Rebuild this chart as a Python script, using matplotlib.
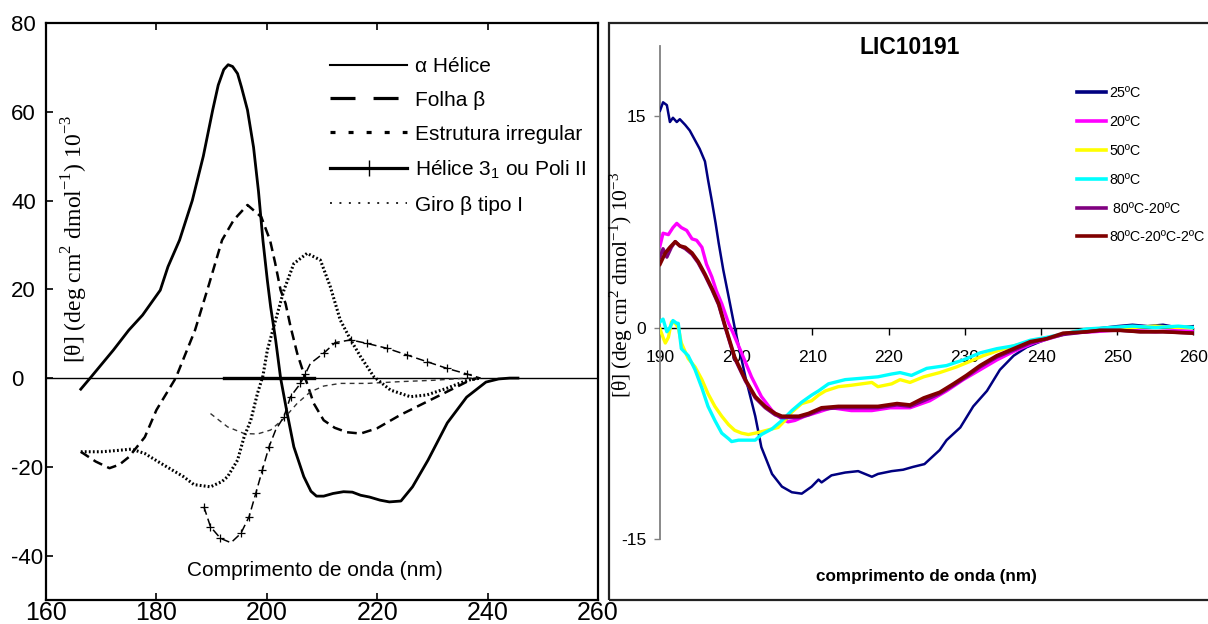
import matplotlib
matplotlib.use("Agg")
import matplotlib.pyplot as plt
from matplotlib.lines import Line2D
from matplotlib.patches import Rectangle
from matplotlib import font_manager

plt.rcParams['font.family'] = ['Liberation Sans', 'DejaVu Sans']
plt.rcParams['lines.scale_dashes'] = False
plt.rcParams['axes.unicode_minus'] = False

# ---------------- left panel: reference CD spectra ----------------
struct_labels = ['α Hélice', 'Folha β', 'Estrutura irregular',
                 r'Hélice 3$_{\mathregular{1}}$ ou Poli II', 'Giro β tipo I']

alpha_nm = [166.3, 168.0, 172.2, 175.0, 177.5, 180.7, 182.1, 184.2, 186.5, 188.5,
            190.2, 191.2, 192.2, 193.0, 193.8, 194.7, 195.4, 196.5, 197.6, 198.5,
            199.3, 200.1, 200.7, 201.6, 202.5, 203.7, 204.9, 206.7, 208.0, 209.0,
            210.3, 212.0, 213.9, 215.5, 217.0, 218.6, 220.5, 222.2, 224.3, 226.4,
            229.2, 232.7, 236.2, 239.7, 242.0, 244.0, 245.5]
alpha_val = [-2.5, 0.0, 6.3, 10.8, 14.2, 19.8, 25.1, 31.1, 40.0, 50.0,
             60.4, 66.0, 69.5, 70.6, 70.2, 68.6, 65.6, 60.4, 52.0, 42.0,
             31.0, 22.0, 16.0, 8.6, 0.0, -8.0, -15.5, -22.2, -25.5, -26.6,
             -26.6, -26.0, -25.6, -25.7, -26.4, -26.8, -27.5, -27.9, -27.7, -24.5,
             -18.5, -10.1, -4.3, -0.9, -0.2, 0.0, 0.0]

beta_nm = [166.3, 169.0, 171.5, 173.3, 175.0, 177.9, 180.0, 183.5, 187.0, 189.5,
           191.9, 194.0, 196.5, 199.0, 200.6, 201.5, 202.5, 203.4, 204.3, 205.5,
           206.7, 208.5, 210.3, 212.3, 214.5, 217.0, 220.0, 224.2, 228.4, 232.6,
           236.3, 238.1]
beta_val = [-16.6, -18.8, -20.3, -19.5, -17.8, -13.3, -7.2, 0.0, 10.8, 21.0,
            31.1, 35.6, 39.0, 36.3, 31.0, 26.0, 19.8, 16.8, 11.6, 5.6,
            1.0, -5.7, -9.5, -11.2, -12.2, -12.5, -11.3, -8.3, -5.7, -3.1,
            -0.8, 0.0]

irreg_nm = [189.8, 192.9, 195.9, 198.3, 200.7, 203.1, 205.5, 207.9, 210.3, 213.3,
            218.2, 224.2, 230.2, 236.3, 239.0]
irreg_val = [-8.0, -11.0, -12.5, -12.6, -11.7, -9.1, -5.7, -3.1, -1.8, -1.2,
             -1.2, -0.8, -0.5, 0.0, 0.0]

h31_nm = [188.6, 189.8, 191.6, 193.5, 195.3, 196.8, 198.0, 199.2, 200.4, 201.6,
          203.1, 204.3, 206.1, 207.0, 207.9, 210.3, 212.4, 215.2, 218.2, 221.8,
          225.4, 229.0, 232.6, 236.3, 238.7]
h31_val = [-29.0, -33.5, -36.1, -37.1, -35.0, -31.2, -26.0, -20.7, -15.5, -11.7,
           -8.7, -4.2, -1.2, 1.0, 3.3, 5.6, 8.0, 8.6, 7.8, 6.7,
           5.2, 3.7, 2.2, 0.9, 0.0]

turn_nm = [166.3, 170.1, 173.0, 175.5, 177.9, 180.8, 184.9, 186.8, 189.8, 191.9,
           192.9, 194.7, 195.9, 197.1, 198.3, 199.3, 200.1, 201.6, 203.1, 204.9,
           207.3, 209.7, 211.5, 213.3, 215.2, 217.0, 219.4, 222.4, 226.0, 229.0,
           232.6, 236.3, 238.7]
turn_val = [-16.6, -16.6, -16.3, -16.0, -17.0, -19.2, -22.2, -24.0, -24.5, -23.3,
            -22.2, -18.5, -13.2, -9.5, -3.5, 0.5, 6.3, 13.1, 19.8, 25.8,
            28.1, 26.6, 20.6, 13.1, 8.6, 4.8, 0.3, -2.7, -4.2, -3.8,
            -2.3, -0.5, 0.0]

baseline_heavy_nm = [192.2, 208.5]

left_xticks = [160, 180, 200, 220, 240, 260]
left_yticks = [-40, -20, 0, 20, 40, 60, 80]

# ---------------- right panel: LIC10191 thermal series ----------------
temps = ['25ºC', '20ºC', '50ºC', '80ºC', ' 80ºC-20ºC', '80ºC-20ºC-2ºC']
temp_colors = ['#000080', '#ff00ff', '#ffff00', '#00ffff', '#800080', '#800000']

t25_nm = [190.0, 190.4, 190.9, 191.3, 191.7, 192.2, 192.6, 193.3, 193.9, 194.6,
          195.2, 195.9, 196.3, 196.8, 197.3, 197.7, 198.3, 199.0, 199.8, 201.2,
          202.5, 203.3, 204.7, 206.0, 207.3, 208.6, 209.9, 210.8, 211.2, 212.5,
          214.3, 216.0, 217.8, 218.6, 220.4, 221.9, 223.2, 224.7, 226.7, 227.6,
          229.4, 231.1, 232.9, 234.6, 236.4, 238.1, 239.9, 241.5, 243.3, 245.5,
          248.4, 250.0, 252.0, 254.0, 256.0, 258.0, 260.0]
t25_val = [15.4, 16.0, 15.8, 14.6, 14.9, 14.6, 14.8, 14.4, 14.0, 13.3,
           12.7, 11.8, 10.5, 9.0, 7.4, 6.0, 4.1, 2.2, 0.0, -3.5,
           -6.3, -8.5, -10.4, -11.3, -11.7, -11.8, -11.3, -10.8, -11.0, -10.5,
           -10.3, -10.2, -10.6, -10.4, -10.2, -10.1, -9.9, -9.7, -8.7, -8.0,
           -7.1, -5.6, -4.5, -3.0, -2.0, -1.4, -1.0, -0.7, -0.4, -0.2,
           0.0, 0.1, 0.2, 0.1, 0.2, 0.0, 0.1]

t20_nm = [190.0, 190.4, 191.1, 191.7, 192.2, 192.8, 193.5, 194.2, 194.8, 195.5,
          196.1, 196.8, 197.4, 198.1, 199.0, 199.6, 200.7, 202.0, 203.3, 204.7,
          206.0, 206.8, 207.7, 209.0, 210.8, 212.5, 215.1, 217.8, 220.2, 222.8,
          225.4, 227.6, 229.8, 232.0, 234.2, 236.4, 239.0, 241.6, 243.4, 246.9,
          249.5, 252.0, 255.0, 258.0, 260.0]
t20_val = [5.8, 6.7, 6.6, 7.1, 7.4, 7.1, 6.9, 6.3, 6.2, 5.7,
           4.5, 3.6, 2.6, 1.7, 0.3, -0.4, -1.8, -3.5, -4.9, -5.9,
           -6.5, -6.7, -6.6, -6.3, -6.0, -5.7, -5.9, -5.9, -5.7, -5.7,
           -5.2, -4.5, -3.7, -3.0, -2.3, -1.7, -1.1, -0.7, -0.4, -0.3,
           -0.2, -0.2, -0.3, -0.2, -0.3]

t50_nm = [190.0, 190.4, 190.7, 191.1, 191.5, 192.0, 192.4, 192.8, 193.7, 194.6,
          195.5, 196.3, 197.2, 198.1, 199.0, 199.8, 200.7, 201.6, 202.5, 203.3,
          204.7, 205.5, 206.4, 207.3, 208.6, 209.9, 210.8, 211.7, 213.4, 215.1,
          217.8, 218.6, 220.4, 221.5, 222.8, 224.6, 226.7, 228.9, 230.7, 232.4,
          234.6, 236.4, 238.6, 240.7, 243.4, 246.0, 249.0, 252.0, 255.0, 258.0,
          260.0]
t50_val = [-0.1, -0.7, -1.1, -0.7, 0.4, 0.3, 0.0, -1.1, -2.2, -2.8,
           -3.7, -4.7, -5.6, -6.3, -6.9, -7.3, -7.5, -7.6, -7.5, -7.4,
           -7.2, -7.1, -6.6, -6.0, -5.4, -5.2, -4.8, -4.5, -4.2, -4.1,
           -3.9, -4.2, -4.0, -3.7, -3.9, -3.5, -3.2, -2.8, -2.4, -2.0,
           -1.6, -1.3, -1.0, -0.8, -0.4, -0.2, -0.1, 0.0, 0.1, 0.0,
           0.0]

t80_nm = [190.0, 190.4, 190.9, 191.3, 191.7, 192.2, 192.4, 192.8, 193.7, 194.6,
          195.5, 196.3, 197.2, 198.1, 199.0, 199.4, 200.3, 201.6, 202.5, 203.3,
          204.7, 206.0, 207.3, 208.6, 209.9, 210.8, 212.1, 214.3, 216.5, 218.6,
          220.4, 221.5, 223.0, 225.0, 227.6, 229.8, 232.0, 234.2, 236.4, 238.6,
          240.7, 243.4, 246.0, 249.0, 252.0, 255.0, 258.0, 260.0]
t80_val = [0.4, 0.6, -0.3, 0.0, 0.5, 0.3, 0.3, -1.5, -2.0, -3.0,
           -4.3, -5.6, -6.6, -7.5, -7.9, -8.1, -8.0, -8.0, -8.0, -7.6,
           -7.2, -6.6, -5.9, -5.3, -4.8, -4.5, -4.0, -3.7, -3.6, -3.5,
           -3.3, -3.2, -3.4, -2.9, -2.7, -2.3, -1.8, -1.5, -1.3, -0.9,
           -0.7, -0.4, -0.1, 0.0, 0.1, 0.0, 0.1, 0.0]

t80_20_nm = [190.0, 190.4, 190.9, 191.5, 192.0, 192.6, 193.3, 194.2, 195.0, 195.9,
             196.8, 197.7, 198.5, 199.8, 201.2, 202.5, 203.8, 205.1, 206.0, 207.3,
             208.2, 209.5, 211.2, 213.4, 216.0, 218.6, 221.1, 222.8, 224.6, 226.7,
             228.5, 230.2, 232.0, 234.2, 236.4, 238.6, 240.7, 242.9, 246.0, 247.7,
             250.4, 253.0, 256.0, 260.0]
t80_20_val = [5.0, 5.6, 5.0, 5.7, 6.1, 5.8, 5.6, 5.2, 4.6, 3.7,
              2.7, 1.6, 0.1, -2.2, -3.8, -5.0, -5.7, -6.2, -6.4, -6.4,
              -6.4, -6.2, -5.8, -5.7, -5.7, -5.7, -5.5, -5.6, -5.2, -4.7,
              -4.1, -3.5, -2.8, -2.1, -1.6, -1.1, -0.8, -0.5, -0.3, -0.2,
              -0.2, -0.3, -0.3, -0.4]

t80_20_2_nm = [190.0, 190.7, 191.3, 192.0, 192.6, 193.3, 194.2, 195.0, 195.9, 196.8,
               197.7, 198.5, 199.8, 201.2, 202.5, 203.8, 205.1, 206.0, 207.3, 208.2,
               209.5, 211.2, 213.4, 216.0, 218.6, 221.1, 222.8, 224.6, 226.7, 228.5,
               230.2, 232.0, 234.2, 236.4, 238.6, 240.7, 242.9, 246.0, 247.7, 250.4,
               253.0, 256.0, 260.0]
t80_20_2_val = [4.5, 5.3, 5.7, 6.1, 5.8, 5.7, 5.3, 4.7, 3.8, 2.8,
                1.7, 0.2, -2.1, -3.7, -4.9, -5.6, -6.1, -6.3, -6.3, -6.3,
                -6.1, -5.7, -5.6, -5.6, -5.6, -5.4, -5.5, -5.0, -4.6, -4.0,
                -3.4, -2.7, -2.0, -1.5, -1.0, -0.8, -0.4, -0.3, -0.2, -0.2,
                -0.3, -0.3, -0.4]

right_xticks = [190, 200, 210, 220, 230, 240, 250, 260]
right_yticks = [-15, 0, 15]

# ---------------- fonts ----------------
installed = {f.name for f in font_manager.fontManager.ttflist}
if 'Liberation Sans Narrow' in installed:
    NARROW = ['Liberation Sans Narrow', 'DejaVu Sans']
    sz_title, sz_xlab, sz_leg, sz_tick = 20, 15, 12.5, 14.5
else:
    NARROW = ['Liberation Sans', 'DejaVu Sans']
    sz_title, sz_xlab, sz_leg, sz_tick = 16.5, 12.3, 10.3, 12.5
SERIF = ['Liberation Serif', 'DejaVu Serif']

W, H = 1208, 624


def fx(x):
    return x / W


def fy(y):
    return 1 - y / H


fig = plt.figure(figsize=(W / 100, H / 100), dpi=100)
fig.patch.set_facecolor('white')

ylab = r'[θ] (deg cm$^{\mathregular{2}}$ dmol$^{\mathregular{-1}}$) 10$^{\mathregular{-3}}$'

# ======== left panel ========
ax1 = fig.add_axes([fx(46), fy(600), (598 - 46) / W, (600 - 23) / H])
ax1.set_xlim(160, 260)
ax1.set_ylim(-50, 80)
ax1.set_xticks(left_xticks)
ax1.set_yticks(left_yticks)
for s in ax1.spines.values():
    s.set_linewidth(1.6)
ax1.tick_params(axis='both', direction='in', length=5, width=1.2,
                top=True, right=False)
ax1.tick_params(axis='x', labelsize=18, pad=1)
ax1.tick_params(axis='y', labelsize=16, pad=25)
for lbl in ax1.get_yticklabels():
    lbl.set_horizontalalignment('left')

ax1.axhline(0, color='black', lw=1.0, zorder=1)
ax1.plot(baseline_heavy_nm, [0, 0], color='black', lw=2.4, zorder=1)

ax1.plot(alpha_nm, alpha_val, color='black', lw=2.0)
ax1.plot(beta_nm, beta_val, color='black', lw=1.8, dashes=(7, 4))
ax1.plot(irreg_nm, irreg_val, color='#333333', lw=1.0, dashes=(3.5, 3))
ax1.plot(h31_nm, h31_val, color='black', lw=1.1, dashes=(6, 3),
         marker='+', ms=6, mew=0.9, markevery=0.025)
ax1.plot(turn_nm, turn_val, color='black', lw=2.2, dashes=(1.3, 1.6))

left_handles = [
    Line2D([], [], color='black', lw=1.5),
    Line2D([], [], color='black', lw=2.3, dashes=(18, 13)),
    Line2D([], [], color='black', lw=2.3, dashes=(3.6, 9.4)),
    Line2D([], [], color='black', lw=2.3, marker='+', ms=11, mew=1.0),
    Line2D([], [], color='black', lw=1.2, dashes=(1.4, 5.4)),
]
em1 = 15 * 100 / 72
ax1.legend(left_handles, struct_labels, loc='upper left',
           bbox_to_anchor=(fx(330), fy(57)), bbox_transform=fig.transFigure,
           frameon=False, fontsize=15, handlelength=77 / em1,
           handletextpad=8 / em1, labelspacing=0.71, borderpad=0,
           borderaxespad=0, numpoints=1)

fig.text(fx(315), fy(570), 'Comprimento de onda (nm)', fontsize=15,
         ha='center', va='center')
fig.text(fx(75), fy(239), ylab, family=SERIF, fontsize=17, rotation=90,
         ha='center', va='center')

# ======== right panel ========
fig.add_artist(Rectangle((fx(609), fy(600)), 1.0, (600 - 23) / H,
                         transform=fig.transFigure, fill=False,
                         edgecolor='#222222', lw=1.6))

ax2 = fig.add_axes([fx(660), fy(538.7), (1193.5 - 660) / W, (538.7 - 46) / H])
ax2.set_xlim(190, 260)
ax2.set_ylim(-15, 20)
ax2.patch.set_alpha(0)
ax2.spines['top'].set_visible(False)
ax2.spines['right'].set_visible(False)
ax2.spines['left'].set_color('#808080')
ax2.spines['left'].set_linewidth(1.3)
ax2.spines['bottom'].set_position(('data', 0))
ax2.spines['bottom'].set_linewidth(1.0)
ax2.set_xticks(right_xticks)
ax2.set_yticks(right_yticks)
ax2.tick_params(axis='x', direction='out', length=5, width=1.0, pad=11)
ax2.tick_params(axis='y', direction='out', length=4, width=1.0, pad=6,
                color='#808080')
for lbl in ax2.get_xticklabels() + ax2.get_yticklabels():
    lbl.set_family(NARROW)
    lbl.set_fontsize(sz_tick)

series = [(t25_nm, t25_val, 1.8), (t20_nm, t20_val, 2.4),
          (t50_nm, t50_val, 2.4), (t80_nm, t80_val, 2.4),
          (t80_20_nm, t80_20_val, 2.4), (t80_20_2_nm, t80_20_2_val, 2.6)]
right_handles = []
for (nm, val, lw), col, lab in zip(series, temp_colors, temps):
    ax2.plot(nm, val, color=col, lw=lw, label=lab, zorder=3)
    right_handles.append(Line2D([], [], color=col, lw=2.6))

em2 = sz_leg * 100 / 72
ax2.legend(right_handles, temps, loc='upper left',
           bbox_to_anchor=(fx(1077), fy(86)), bbox_transform=fig.transFigure,
           frameon=False, prop={'family': NARROW, 'size': sz_leg},
           handlelength=29 / em2, handletextpad=3 / em2, labelspacing=1.04,
           borderpad=0, borderaxespad=0)

fig.text(fx(910), fy(48), 'LIC10191', family=NARROW, fontsize=sz_title,
         fontweight='bold', ha='center', va='center')
fig.text(fx(926), fy(576), 'comprimento de onda (nm)', family=NARROW,
         fontsize=sz_xlab, fontweight='bold', ha='center', va='center')
fig.text(fx(621), fy(285), ylab, family=SERIF, fontsize=15.5, rotation=90,
         ha='center', va='center')

fig.savefig('out.png', dpi=100)
